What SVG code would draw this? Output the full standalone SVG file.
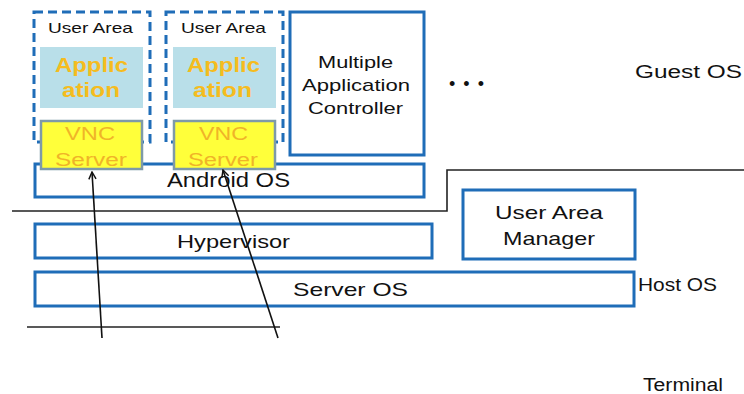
<svg xmlns="http://www.w3.org/2000/svg" width="744" height="394" viewBox="0 0 744 394">
<defs>
<style>
.box{fill:#fff;stroke:#1F6DB8;stroke-width:3}
.dash{fill:#fff;stroke:#1F6DB8;stroke-width:3;stroke-dasharray:9 5}
.app{fill:#B9DFE9;stroke:none}
.vnc{fill:#FFFF3A;stroke:#7E9AA8;stroke-width:2.5}
.t{font-family:"Liberation Sans",Arial,sans-serif;fill:#111}
.apt{font-family:"Liberation Sans",Arial,sans-serif;font-weight:bold;fill:#F5BC1E;font-size:20px}
.vt{font-family:"Liberation Sans",Arial,sans-serif;fill:#F0B428;font-size:18px}
.ln{fill:none;stroke:#222;stroke-width:1.6}
.arr{fill:none;stroke:#111;stroke-width:1.6}
</style>
<marker id="ah" viewBox="0 0 10 10" refX="9" refY="5" markerWidth="9" markerHeight="9" orient="auto" markerUnits="userSpaceOnUse">
<path d="M1,1 L9,5 L1,9" fill="none" stroke="#111" stroke-width="1.6"/>
</marker>
</defs>
<rect width="744" height="394" fill="#fff"/>

<g id="separator-lines">
<polyline class="ln" points="12,211 447,211 447,170 744,170"/>
<line class="ln" x1="27" y1="327" x2="280" y2="327"/>
</g>

<g id="android-os">
<rect class="box" x="35" y="164" width="389" height="33"/>
<text class="t" x="167" y="187" font-size="20" textLength="123" lengthAdjust="spacingAndGlyphs">Android OS</text>
</g>

<g id="user-area-1">
<rect class="dash" x="34" y="12" width="116" height="130"/>
<text class="t" x="48" y="33" font-size="15" textLength="85" lengthAdjust="spacingAndGlyphs">User Area</text>
<rect class="app" x="40" y="47" width="103" height="61"/>
<text class="apt" x="55" y="72" textLength="73" lengthAdjust="spacingAndGlyphs">Applic</text>
<text class="apt" x="62" y="97" textLength="58" lengthAdjust="spacingAndGlyphs">ation</text>
</g>
<g id="vnc-1">
<rect class="vnc" x="41" y="121" width="101" height="48"/>
<text class="vt" x="65" y="140" textLength="50" lengthAdjust="spacingAndGlyphs">VNC</text>
<text class="vt" x="55" y="166" textLength="72" lengthAdjust="spacingAndGlyphs">Server</text>
</g>

<g id="user-area-2">
<rect class="dash" x="166" y="12" width="117" height="130"/>
<text class="t" x="181" y="33" font-size="15" textLength="85" lengthAdjust="spacingAndGlyphs">User Area</text>
<rect class="app" x="173" y="47" width="103" height="61"/>
<text class="apt" x="187" y="72" textLength="73" lengthAdjust="spacingAndGlyphs">Applic</text>
<text class="apt" x="193" y="97" textLength="59" lengthAdjust="spacingAndGlyphs">ation</text>
</g>
<g id="vnc-2">
<rect class="vnc" x="174" y="121" width="101" height="48"/>
<text class="vt" x="199" y="140" textLength="49" lengthAdjust="spacingAndGlyphs">VNC</text>
<text class="vt" x="188" y="166" textLength="70" lengthAdjust="spacingAndGlyphs">Server</text>
</g>

<g id="multiple-application-controller">
<rect class="box" x="290" y="12" width="134" height="143"/>
<text class="t" x="318" y="68" font-size="17" textLength="75" lengthAdjust="spacingAndGlyphs">Multiple</text>
<text class="t" x="302" y="91" font-size="17" textLength="108" lengthAdjust="spacingAndGlyphs">Application</text>
<text class="t" x="308" y="114" font-size="17" textLength="95" lengthAdjust="spacingAndGlyphs">Controller</text>
</g>

<g id="ellipsis">
<text class="t" x="449" y="90" font-size="18" textLength="35" lengthAdjust="spacing">• • •</text>
</g>

<g id="guest-os-label">
<text class="t" x="635" y="78" font-size="18" textLength="107" lengthAdjust="spacingAndGlyphs">Guest OS</text>
</g>

<g id="hypervisor">
<rect class="box" x="35" y="224" width="397" height="34"/>
<text class="t" x="177" y="248" font-size="19" textLength="113" lengthAdjust="spacingAndGlyphs">Hypervisor</text>
</g>

<g id="user-area-manager">
<rect class="box" x="463" y="190" width="172" height="69"/>
<text class="t" x="495" y="219" font-size="19" textLength="108" lengthAdjust="spacingAndGlyphs">User Area</text>
<text class="t" x="503" y="245" font-size="19" textLength="92" lengthAdjust="spacingAndGlyphs">Manager</text>
</g>

<g id="server-os">
<rect class="box" x="35" y="272" width="599" height="34"/>
<text class="t" x="293" y="296" font-size="19" textLength="115" lengthAdjust="spacingAndGlyphs">Server OS</text>
</g>

<g id="host-os-label">
<text class="t" x="638" y="291" font-size="18" textLength="79" lengthAdjust="spacingAndGlyphs">Host OS</text>
</g>

<g id="terminal-label">
<text class="t" x="643" y="391" font-size="18" textLength="80" lengthAdjust="spacingAndGlyphs">Terminal</text>
</g>

<g id="connectors">
<line class="arr" x1="102" y1="338" x2="92" y2="172" marker-end="url(#ah)"/>
<line class="arr" x1="278" y1="338" x2="223" y2="170" marker-end="url(#ah)"/>
</g>
</svg>
